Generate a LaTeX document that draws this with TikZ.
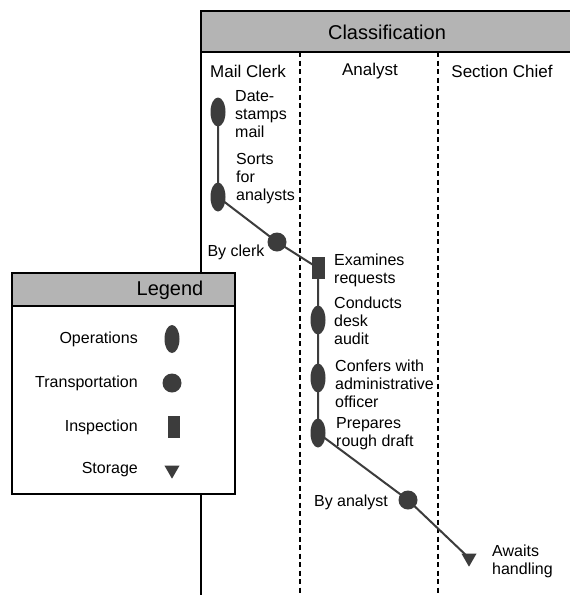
\documentclass[tikz,border=0pt]{standalone}
\usepackage{fontspec}
\setmainfont{Liberation Sans}
\usetikzlibrary{shapes.geometric}
\definecolor{ink}{HTML}{3C3C3C}
\definecolor{barfill}{HTML}{B4B4B4}
\tikzset{
  frame/.style={draw=black, line width=1.1pt},
  bar/.style={fill=barfill, draw=black, line width=1.1pt},
  lane/.style={draw=black, line width=1.2pt, dash pattern=on 5pt off 3.5pt},
  flow/.style={draw=ink, line width=2pt},
  opsym/.style={ellipse, fill=ink, draw=none, minimum width=15pt, minimum height=29pt, inner sep=0pt},
  trsym/.style={circle, fill=ink, draw=none, minimum size=19pt, inner sep=0pt},
  insym/.style={rectangle, fill=ink, draw=none, minimum width=13pt, minimum height=22pt, inner sep=0pt},
  stsym/.style={isosceles triangle, isosceles triangle apex angle=60, shape border rotate=-90, fill=ink, draw=none, minimum size=13pt, inner sep=0pt},
  lbl/.style={font=\fontsize{16}{18}\selectfont, align=left, anchor=west, inner sep=0pt},
  clbl/.style={font=\fontsize{16}{18}\selectfont, inner sep=0pt},
  rlbl/.style={font=\fontsize{16}{18}\selectfont, anchor=east, inner sep=0pt},
  head/.style={font=\fontsize{17}{20}\selectfont, inner sep=0pt},
  title/.style={font=\fontsize{20}{24}\selectfont, inner sep=0pt}
}
\begin{document}
\begin{tikzpicture}[x=1pt, y=-1pt]
\useasboundingbox (0,0) rectangle (570,595);
\fill[white] (0,0) rectangle (570,595);
% main frame
\draw[bar] (572,52) -- (201,52) -- (201,11) -- (572,11) -- cycle;
\draw[frame] (201,11) -- (201,595);
\node[title] (cls) at (387,32) {Classification};
% lanes
\draw[lane] (300,52) -- (300,595);
\draw[lane] (438,52) -- (438,595);
\node[head] (h1) at (248,71) {Mail Clerk};
\node[head] (h2) at (370,71) {Analyst};
\node[head] (h3) at (502,71) {Section Chief};
% symbol positions
\coordinate (op1) at (218,112);
\coordinate (op2) at (218,197);
\coordinate (tr1) at (277,242);
\coordinate (in1) at (318,268);
\coordinate (op3) at (318,320);
\coordinate (op4) at (318,378);
\coordinate (op5) at (318,433);
\coordinate (tr2) at (408,500);
\coordinate (st1) at (469,558);
% connectors
\draw[flow] (op1) -- (op2) -- (tr1) -- (in1) -- (op3) -- (op4) -- (op5) -- (tr2) -- (st1);
% symbols on top
\node[opsym] (n1) at (op1) {};
\node[opsym] (n2) at (op2) {};
\node[trsym] (n3) at (tr1) {};
\node[insym] (n4) at (in1) {};
\node[opsym] (n5) at (op3) {};
\node[opsym] (n6) at (op4) {};
\node[opsym] (n7) at (op5) {};
\node[trsym] (n8) at (tr2) {};
\node[stsym] (n9) at (st1) {};
% labels
\node[lbl] (t1) at (235,114) {Date-\\stamps\\mail};
\node[lbl] (t2) at (236,179) {Sorts\\for\\analysts};
\node[clbl] (t3) at (236,252) {By clerk};
\node[lbl] (t4) at (334,270) {Examines\\requests};
\node[lbl] (t5) at (334,321) {Conducts\\desk\\audit};
\node[lbl] (t6) at (335,384) {Confers with\\administrative\\officer};
\node[lbl] (t7) at (336,434) {Prepares\\rough draft};
\node[clbl] (t8) at (351,502) {By analyst};
\node[lbl] (t9) at (492,561) {Awaits\\handling};
% legend
\draw[frame, fill=white] (12,273) rectangle (235,494);
\draw[bar] (12,273) rectangle (235,306);
\node[title] (lg) at (170,290) {Legend};
\node[rlbl] (l1) at (138,339) {Operations};
\node[rlbl] (l2) at (138,383) {Transportation};
\node[rlbl] (l3) at (138,427) {Inspection};
\node[rlbl] (l4) at (138,470) {Storage};
\node[opsym, minimum width=15pt, minimum height=28pt] (s1) at (172,339) {};
\node[trsym] (s2) at (172,383) {};
\node[insym, minimum width=12pt, minimum height=22pt] (s3) at (174,427) {};
\node[stsym] (s4) at (172,470) {};
\end{tikzpicture}
\end{document}
